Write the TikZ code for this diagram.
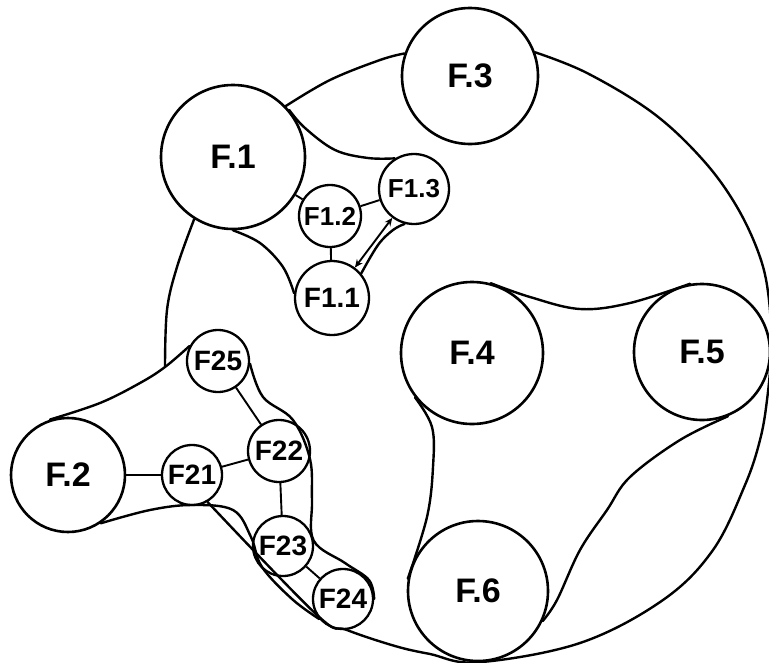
\documentclass[tikz,border=0pt]{standalone}
\usepackage{fontspec}
\newfontfamily\lab{Liberation Sans}
\usetikzlibrary{arrows.meta}
\begin{document}
\begin{tikzpicture}[x=1pt,y=1pt,
  big/.style={circle,draw,line width=2.6pt,inner sep=0pt,font=\lab\bfseries\fontsize{34}{34}\selectfont},
  small/.style={circle,draw,line width=2.3pt,inner sep=0pt,font=\lab\bfseries\fontsize{28}{28}\selectfont},
  edge/.style={line width=1.9pt},
  outline/.style={line width=2.4pt,line join=round,line cap=round}]
\useasboundingbox (0,0) rectangle (769,-662);
% main circles
\node[big,minimum size=144pt] (F1) at (233,-157) {F.1};
\node[big,minimum size=136pt] (F3) at (470,-76) {F.3};
\node[big,minimum size=142pt] (F4) at (472,-353) {F.4};
\node[big,minimum size=136pt] (F5) at (702,-352) {F.5};
\node[big,minimum size=140pt] (F6) at (478,-591) {F.6};
\node[big,minimum size=114pt] (F2) at (68,-475) {F.2};
% sub circles
\node[small,minimum size=62pt,font=\lab\bfseries\fontsize{26}{26}\selectfont] (F12) at (330,-216) {F1.2};
\node[small,minimum size=70pt,font=\lab\bfseries\fontsize{26}{26}\selectfont] (F13) at (414,-189) {F1.3};
\node[small,minimum size=74pt] (F11) at (332,-298) {F1.1};
\node[small,minimum size=60pt] (F21) at (192,-475) {F21};
\node[small,minimum size=62pt] (F25) at (218,-361) {F25};
\node[small,minimum size=62pt] (F22) at (279,-451) {F22};
\node[small,minimum size=60pt] (F23) at (283,-546) {F23};
\node[small,minimum size=60pt] (F24) at (343,-599) {F24};
\coordinate (J) at (165,-367);
% connectors
\draw[edge] (F1) -- (F12);
\draw[edge] (F12) -- (F13);
\draw[edge] (F12) -- (F11);
\draw[edge,{Stealth[length=8pt,width=7pt]}-{Stealth[length=8pt,width=7pt,open]}] (F11) -- (F13);
\draw[edge] (F2) -- (F21);
\draw[edge] (F21) -- (F22);
\draw[edge] (F25) -- (F22);
\draw[edge] (F22) -- (F23);
\draw[edge] (F23) -- (F24);
% outlines
\draw[outline] plot[smooth,tension=0.6] coordinates {(F1.44) (330,-80) (380,-60) (F3.161)};
\draw[outline] plot[smooth,tension=0.6] coordinates {(F3.20) (587,-73) (653,-113) (703,-160) (737,-207) (760,-257) (769,-300) (771,-352) (767,-400) (760,-440) (745,-485) (713,-550) (663,-600) (580,-643) (F6.-90) (430,-654) (395,-646) (347,-630) (317,-615) (F21.-60)};
\draw[outline] plot[smooth,tension=0.6] coordinates {(F1.238) (177,-267) (167,-310) (J)};
\draw[outline] plot[smooth,tension=0.6] coordinates {(F2.108) (100,-403) (140,-383) (J) (F25.152)};
\draw[outline] plot[smooth,tension=0.6] coordinates {(F2.-56) (150,-510) (192,-505) (233,-510) (251,-537) (262,-567) (292,-599) (F24.220)};
\draw[outline] plot[smooth,tension=0.6] coordinates {(F25.-5) (263,-397) (293,-420) (F22.-15) (312,-500) (F23.10) (345,-563) (369,-580) (F24.0)};
\draw[outline] plot[smooth,tension=0.6] coordinates {(F1.40) (305,-128) (335,-150) (368,-158) (F13.122)};
\draw[outline] plot[smooth,tension=0.6] coordinates {(F1.-90) (260,-243) (283,-267) (F11.173)};
\draw[outline] plot[smooth,tension=0.6] coordinates {(F11.40) (378,-245) (393,-230) (F13.-105)};
\draw[outline] plot[smooth,tension=0.6] coordinates {(F4.75) (530,-297) (580,-309) (630,-303) (F5.100)};
\draw[outline] plot[smooth,tension=0.6] coordinates {(F4.218) (432,-427) (433,-467) (427,-517) (F6.170)};
\draw[outline] plot[smooth,tension=0.6] coordinates {(F5.-68) (680,-440) (630,-477) (607,-510) (580,-550) (557,-600) (F6.-25)};
\end{tikzpicture}
\end{document}
